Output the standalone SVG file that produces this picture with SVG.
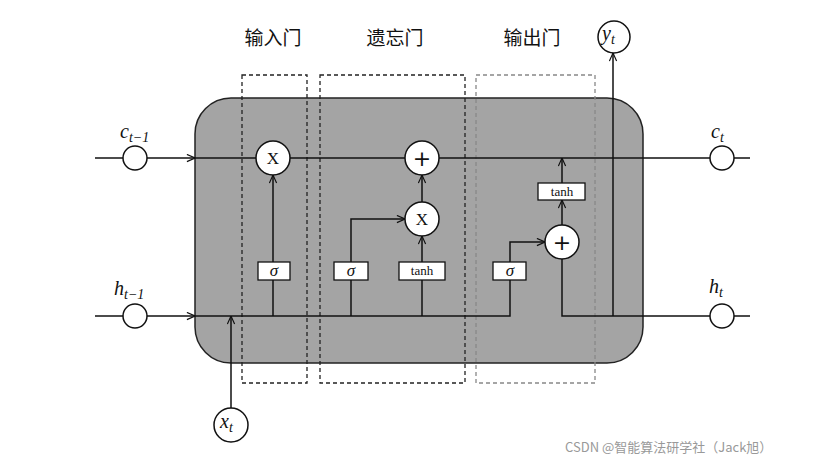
<svg xmlns="http://www.w3.org/2000/svg" width="821" height="464" viewBox="0 0 821 464">
<defs>
<marker id="a" viewBox="0 0 10 10" refX="10" refY="5" markerWidth="9" markerHeight="9" orient="auto" markerUnits="userSpaceOnUse"><path d="M1,1 L10,5 L1,9" fill="none" stroke="#111" stroke-width="1.3"/></marker>
</defs>
<style>
.l{stroke:#111;stroke-width:1.5;fill:none}
.c{fill:#fff;stroke:#111;stroke-width:1.5}
.b{fill:#fff;stroke:#111;stroke-width:1.3}
.m{font-family:"Liberation Serif",serif;font-size:17px;text-anchor:middle;fill:#111}
.p{font-family:"DejaVu Sans",sans-serif;font-size:22px;text-anchor:middle;fill:#111}
.s{font-family:"Liberation Serif",serif;font-size:13px;text-anchor:middle;fill:#111}
.g{font-family:"Liberation Serif",serif;font-style:italic;font-size:17px;text-anchor:middle;fill:#111}
.i{font-family:"Liberation Serif",serif;font-style:italic;font-size:20px;fill:#111}
.z{font-family:"Noto Sans CJK SC",sans-serif;font-size:19px;text-anchor:middle;fill:#111}
</style>
<rect width="821" height="464" fill="#fff"/>
<rect x="195" y="98" width="448" height="265" rx="36" fill="#a4a4a4" stroke="#222" stroke-width="1.5"/>
<g id="gates">
<rect x="242" y="75" width="65" height="308" fill="none" stroke="#222" stroke-width="1.3" stroke-dasharray="4,3"/>
<rect x="320" y="75" width="145" height="308" fill="none" stroke="#222" stroke-width="1.3" stroke-dasharray="4,3"/>
<rect x="476" y="75" width="119" height="308" fill="none" stroke="#888" stroke-width="1.3" stroke-dasharray="4,3"/>
<text class="z" x="273" y="45">输入门</text>
<text class="z" x="395" y="45">遗忘门</text>
<text class="z" x="532" y="45">输出门</text>
</g>
<g id="connectors">
<path class="l" d="M95,158 H195" marker-end="url(#a)"/>
<path class="l" d="M95,316 H195" marker-end="url(#a)"/>
<path class="l" d="M195,158 H710 M734,158 H750"/>
<path class="l" d="M195,316 H510 V280"/>
<path class="l" d="M510,262 V242 H545" marker-end="url(#a)"/>
<path class="l" d="M562,259 V316 H710 M734,316 H750"/>
<path class="l" d="M231,408 V316" marker-end="url(#a)"/>
<path class="l" d="M273,316 V280"/>
<path class="l" d="M273,262 V175" marker-end="url(#a)"/>
<path class="l" d="M351,316 V280"/>
<path class="l" d="M351,262 V219 H405" marker-end="url(#a)"/>
<path class="l" d="M422,316 V280"/>
<path class="l" d="M422,262 V236" marker-end="url(#a)"/>
<path class="l" d="M422,202 V175" marker-end="url(#a)"/>
<path class="l" d="M562,225 V200" marker-end="url(#a)"/>
<path class="l" d="M562,183 V158" marker-end="url(#a)"/>
<path class="l" d="M613,316 V53" marker-end="url(#a)"/>
</g>
<g id="ops">
<circle class="c" cx="273" cy="158" r="17"/><text class="m" x="273" y="164">X</text>
<circle class="c" cx="422" cy="158" r="17"/><text class="p" x="422" y="166">+</text>
<circle class="c" cx="422" cy="219" r="17"/><text class="m" x="422" y="225">X</text>
<circle class="c" cx="562" cy="242" r="17"/><text class="p" x="562" y="250">+</text>
<rect class="b" x="258" y="262" width="32" height="18"/><text class="g" x="274" y="276">σ</text>
<rect class="b" x="334" y="262" width="34" height="18"/><text class="g" x="351" y="276">σ</text>
<rect class="b" x="399" y="262" width="46" height="18"/><text class="s" x="422" y="275">tanh</text>
<rect class="b" x="493" y="262" width="33" height="18"/><text class="g" x="510" y="276">σ</text>
<rect class="b" x="538" y="183" width="47" height="17"/><text class="s" x="562" y="196">tanh</text>
</g>
<g id="io">
<circle class="c" cx="135" cy="158" r="12"/>
<circle class="c" cx="135" cy="316" r="12"/>
<circle class="c" cx="722" cy="158" r="12"/>
<circle class="c" cx="722" cy="316" r="12"/>
<circle class="c" cx="231" cy="425" r="17"/>
<circle class="c" cx="614" cy="37" r="16"/>
<text class="i" x="120" y="138">c<tspan font-size="14" dy="4">t−1</tspan></text>
<text class="i" x="114" y="295">h<tspan font-size="14" dy="4">t−1</tspan></text>
<text class="i" x="711" y="138">c<tspan font-size="14" dy="4">t</tspan></text>
<text class="i" x="709" y="293">h<tspan font-size="14" dy="4">t</tspan></text>
<text class="i" x="220" y="428">x<tspan font-size="14" dy="4">t</tspan></text>
<text class="i" x="602" y="40">y<tspan font-size="14" dy="4">t</tspan></text>
</g>
<text x="565" y="452" font-family="'Noto Sans CJK SC',sans-serif" font-size="13" fill="#999">CSDN @智能算法研学社（Jack旭）</text>
</svg>
